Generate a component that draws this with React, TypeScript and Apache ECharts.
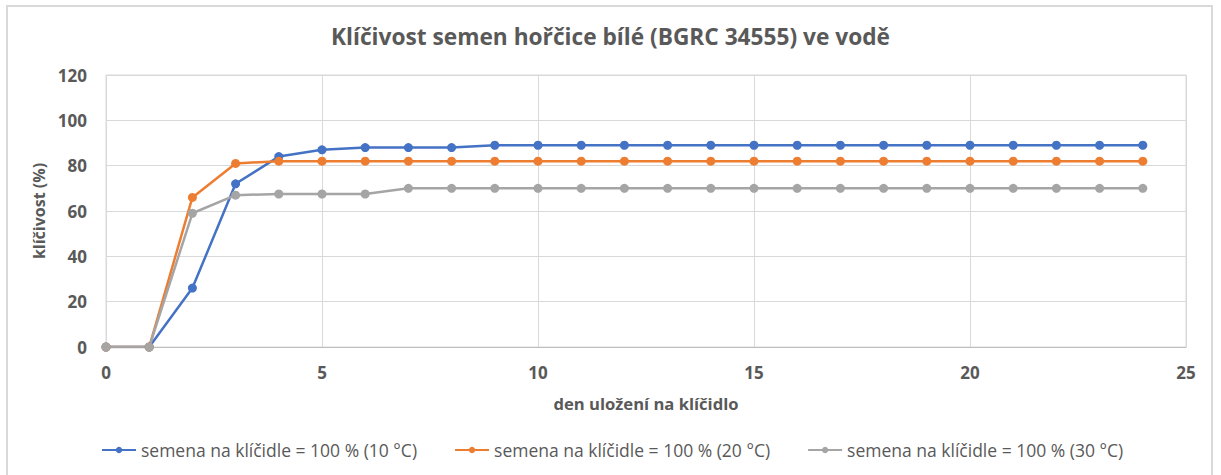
import React, { useEffect, useRef } from "react";
import * as echarts from "echarts";

const days = [0, 1, 2, 3, 4, 5, 6, 7, 8, 9, 10, 11, 12, 13, 14, 15, 16, 17, 18, 19, 20, 21, 22, 23, 24];
const s10 = [0, 0, 26, 72, 84, 87, 88, 88, 88, 89, 89, 89, 89, 89, 89, 89, 89, 89, 89, 89, 89, 89, 89, 89, 89];
const s20 = [0, 0, 66, 81, 82, 82, 82, 82, 82, 82, 82, 82, 82, 82, 82, 82, 82, 82, 82, 82, 82, 82, 82, 82, 82];
const s30 = [0, 0, 59, 67, 67.5, 67.5, 67.5, 70, 70, 70, 70, 70, 70, 70, 70, 70, 70, 70, 70, 70, 70, 70, 70, 70, 70];
const seriesNames = [
  "semena na klíčidle = 100 % (10 °C)",
  "semena na klíčidle = 100 % (20 °C)",
  "semena na klíčidle = 100 % (30 °C)",
];
const colors = ["#4472C4", "#ED7D31", "#A5A5A5"];
const title = "Klíčivost semen hořčice bílé (BGRC 34555) ve vodě";
const xName = "den uložení na klíčidlo";
const yName = "klíčivost (%)";

const FONT = "'Open Sans', Lato, sans-serif";

export default function App() {
  const ref = useRef<HTMLDivElement>(null);
  useEffect(() => {
    if (!ref.current) return;
    const chart = echarts.init(ref.current, undefined, { renderer: "svg" });
    const all = [s10, s20, s30];
    chart.setOption({
      animation: false,
      textStyle: { fontFamily: FONT },
      title: {
        text: title,
        left: "center",
        top: 20,
        textStyle: { fontSize: 22.7, fontWeight: "bold", color: "#595959", fontFamily: FONT },
      },
      grid: { left: 106, right: 35, top: 75, bottom: 128, show: true, borderColor: "#d9d9d9", borderWidth: 1 },
      legend: {
        bottom: 11,
        left: 96,
        itemGap: 37,
        itemWidth: 34,
        itemHeight: 8,
        textStyle: { fontSize: 17.5, color: "#595959", fontFamily: FONT },
        data: seriesNames,
      },
      xAxis: {
        type: "value",
        min: 0,
        max: 25,
        interval: 5,
        name: xName,
        nameLocation: "middle",
        nameGap: 48,
        nameTextStyle: { fontSize: 16.6, fontWeight: "bold", color: "#595959" },
        axisLine: { lineStyle: { color: "#bfbfbf", width: 1 } },
        axisTick: { show: false },
        axisLabel: { fontSize: 17, fontWeight: "bold", color: "#595959", margin: 17 },
        splitLine: { lineStyle: { color: "#d9d9d9" } },
      },
      yAxis: {
        type: "value",
        min: 0,
        max: 120,
        interval: 20,
        name: yName,
        nameLocation: "middle",
        nameGap: 55,
        nameTextStyle: { fontSize: 16, fontWeight: "bold", color: "#595959" },
        axisLine: { show: false },
        axisTick: { show: false },
        axisLabel: { fontSize: 17, fontWeight: "bold", color: "#595959", margin: 19 },
        splitLine: { lineStyle: { color: "#d9d9d9" } },
      },
      series: seriesNames.map((n, i) => ({
        name: n,
        type: "line",
        data: days.map((d, j) => [d, all[i][j]]),
        symbol: "circle",
        symbolSize: 9,
        color: colors[i],
        lineStyle: { width: 2.5, color: colors[i] },
        itemStyle: { color: colors[i] },
      })),
    });
    return () => chart.dispose();
  }, []);
  return (
    <div style={{ position: "fixed", left: 0, top: 0, width: 1221, height: 475, background: "#fff", overflow: "hidden" }}>
      <div style={{ position: "absolute", left: 6, top: 5, width: 1207, height: 500, border: "2px solid #d9d9d9", boxSizing: "border-box" }} />
      <div ref={ref} style={{ position: "absolute", left: 0, top: 0, width: 1221, height: 475 }} />
    </div>
  );
}
